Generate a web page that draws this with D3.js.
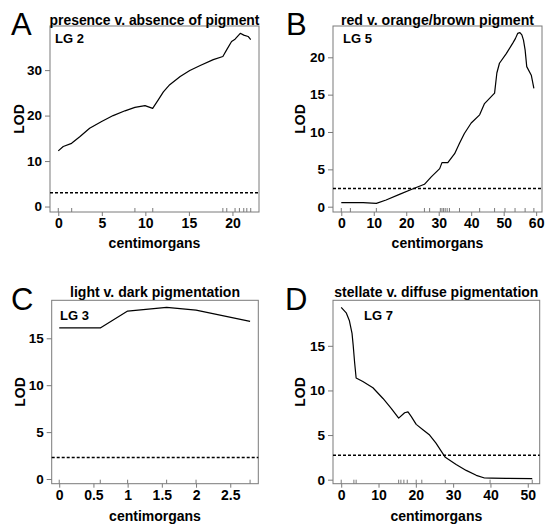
<!DOCTYPE html>
<html>
<head>
<meta charset="utf-8">
<script src="https://cdn.jsdelivr.net/npm/d3@7"></script>
<style>
  html, body { margin: 0; padding: 0; background: #fff; }
  svg { display: block; }
  text { font-family: "Liberation Sans", Arial, Helvetica, sans-serif; fill: #000; }
</style>
</head>
<body>
<svg id="chart" width="546" height="527"></svg>
<script>
// ---------- Data ----------
const panelLetters = ["A", "B", "C", "D"];
const panelTitles = [
  "presence v. absence of pigment",
  "red v. orange/brown pigment",
  "light v. dark pigmentation",
  "stellate v. diffuse pigmentation"
];
const linkageGroups = ["LG 2", "LG 5", "LG 3", "LG 7"];
const xAxisLabel = "centimorgans";
const yAxisLabel = "LOD";

// Panel A (LG 2)
const posA = [0, 0.57, 1.53, 2.5, 3.6, 4.98, 6.3, 7.66, 8.8, 9.96, 10.84, 11.5, 12.07, 12.8, 14.0, 15.1, 16.3, 17.8, 18.9, 19.35, 19.9, 20.3, 20.9, 21.3, 21.8, 22.1];
const lodA = [12.25, 13.2, 13.9, 15.4, 17.2, 18.7, 20.0, 21.05, 21.8, 22.2, 21.6, 23.5, 25.2, 26.8, 28.6, 29.9, 31.0, 32.3, 33.0, 34.5, 36.3, 36.8, 38.1, 37.7, 37.4, 36.7];
const markersA = [0, 1.54, 8.8, 10.85, 18.9, 19.35, 20.3, 20.8, 21.3, 21.65, 22.1];
const thresholdA = 3.05;
const xTicksA = [0, 5, 10, 15, 20];
const yTicksA = [0, 10, 20, 30];

// Panel B (LG 5)
const posB = [0, 6.7, 10.8, 13.8, 17.9, 22.1, 25.6, 27.7, 30.3, 31.0, 32.8, 34.9, 36.4, 37.9, 40.0, 42.6, 44.1, 47.2, 47.9, 48.7, 50.8, 52.8, 53.6, 54.3, 55.0, 55.6, 56.1, 56.6, 57.1, 58.5, 59.3];
const lodB = [0.54, 0.54, 0.45, 0.9, 1.65, 2.4, 3.0, 4.0, 5.1, 5.9, 5.9, 7.1, 8.5, 9.8, 11.2, 12.3, 13.8, 15.2, 17.9, 19.2, 20.5, 21.9, 22.5, 23.2, 23.3, 23.0, 22.3, 21.0, 18.75, 17.6, 15.85];
const markersB = [0, 2.8, 10.8, 25.6, 27.2, 30.5, 31.0, 31.5, 32.0, 32.6, 33.3, 36.4, 42.6, 47.2, 50.4, 53.5, 56.6, 59.3];
const thresholdB = 2.45;
const xTicksB = [0, 10, 20, 30, 40, 50, 60];
const yTicksB = [0, 5, 10, 15, 20];

// Panel C (LG 3)
const posC = [0, 0.6, 1.0, 1.57, 2.0, 2.79];
const lodC = [16.1, 16.1, 17.9, 18.3, 18.0, 16.8];
const markersC = [0, 0.6, 1.0, 1.57, 2.0, 2.79];
const thresholdC = 2.3;
const xTicksC = [0, 0.5, 1, 1.5, 2, 2.5];
const yTicksC = [0, 5, 10, 15];

// Panel D (LG 7)
const posD = [0, 1.34, 2.2, 2.9, 3.2, 3.6, 4.0, 5.8, 8.5, 11.2, 13.4, 15.4, 17.0, 17.9, 18.75, 20.1, 21.9, 23.7, 25.4, 26.8, 27.9, 30.8, 33.5, 36.2, 38.4, 40.4, 44.2, 51.2];
const lodD = [19.3, 18.7, 17.8, 16.4, 15.1, 13.1, 11.4, 11.0, 10.3, 9.1, 8.0, 6.9, 7.5, 7.6, 7.1, 6.2, 5.6, 5.0, 4.1, 3.2, 2.5, 1.7, 1.04, 0.49, 0.19, 0.17, 0.15, 0.11];
const markersD = [0, 3.4, 4.0, 15.4, 16.0, 16.8, 17.7, 20.1, 21.6, 27.9, 39.9, 51.2];
const thresholdD = 2.75;
const xTicksD = [0, 10, 20, 30, 40, 50];
const yTicksD = [0, 5, 10, 15];

// ---------- Layout (pixel geometry, separate from data) ----------
const layouts = [
  { box: [50, 26, 259, 212], xDom: [-0.95, 23.05], yDom: [-1.2, 39.7], letter: [11, 35], titleY: 24.5, titleW: 210, lg: [55, 43], xLabY: 228, cmY: 248, lodX: 24 },
  { box: [333, 26, 542, 212], xDom: [-2.55, 61.8], yDom: [-0.71, 24.19], letter: [286, 35], titleY: 24.5, titleW: 193, lg: [343, 43], xLabY: 228, cmY: 248, lodX: 305 },
  { box: [51.7, 300.3, 258.3, 483.7], xDom: [-0.11, 2.91], yDom: [-0.5, 19.05], letter: [11, 310], titleY: 297, titleW: 170, lg: [60, 320], xLabY: 500, cmY: 521, lodX: 25 },
  { box: [333, 300.3, 539.7, 483.7], xDom: [-2.2, 53.2], yDom: [-0.45, 20.1], letter: [285, 310], titleY: 297, titleW: 204, lg: [364, 320], xLabY: 500, cmY: 521, lodX: 305 }
];

const panelData = [
  { pos: posA, lod: lodA, markers: markersA, thr: thresholdA, xt: xTicksA, yt: yTicksA },
  { pos: posB, lod: lodB, markers: markersB, thr: thresholdB, xt: xTicksB, yt: yTicksB },
  { pos: posC, lod: lodC, markers: markersC, thr: thresholdC, xt: xTicksC, yt: yTicksC },
  { pos: posD, lod: lodD, markers: markersD, thr: thresholdD, xt: xTicksD, yt: yTicksD }
];

const svg = d3.select("#chart");
const boxColor = "#7a7a7a";

panelData.forEach((pd, i) => {
  const L = layouts[i];
  const [x0, y0, x1, y1] = L.box;
  const x = d3.scaleLinear().domain(L.xDom).range([x0, x1]);
  const y = d3.scaleLinear().domain(L.yDom).range([y1, y0]);
  const g = svg.append("g");

  // box
  g.append("rect").attr("x", x0).attr("y", y0).attr("width", x1 - x0).attr("height", y1 - y0)
    .attr("fill", "none").attr("stroke", boxColor).attr("stroke-width", 1);

  // y axis
  const ya = g.append("g").attr("transform", `translate(${x0},0)`)
    .call(d3.axisLeft(y).tickValues(pd.yt).tickSize(5).tickPadding(3).tickFormat(d3.format("d")));
  ya.select(".domain").remove();
  ya.selectAll(".tick line").attr("stroke", boxColor);
  ya.selectAll(".tick text").style("font-size", "13.5px").style("font-weight", "bold")
    .style("font-family", "'Liberation Sans', Arial, sans-serif").attr("fill", "#000");

  // x axis
  const xa = g.append("g").attr("transform", `translate(0,${y1})`)
    .call(d3.axisBottom(x).tickValues(pd.xt).tickSize(4).tickPadding(0).tickFormat(d => String(d)));
  xa.select(".domain").remove();
  xa.selectAll(".tick line").attr("stroke", boxColor);
  xa.selectAll(".tick text").attr("dy", null).attr("y", L.xLabY - y1)
    .style("font-size", "14px").style("font-weight", "bold")
    .style("font-family", "'Liberation Sans', Arial, sans-serif").attr("fill", "#000");

  // rug (marker positions), drawn inside the bottom edge
  g.append("g").selectAll("line").data(pd.markers).join("line")
    .attr("x1", d => x(d)).attr("x2", d => x(d))
    .attr("y1", y1).attr("y2", y1 - 4)
    .attr("stroke", boxColor).attr("stroke-width", 1);

  // threshold
  g.append("line").attr("x1", x0).attr("x2", x1)
    .attr("y1", y(pd.thr)).attr("y2", y(pd.thr))
    .attr("stroke", "#000").attr("stroke-width", 1.5).attr("stroke-dasharray", "3,2");

  // LOD curve
  const pts = pd.pos.map((p, k) => [p, pd.lod[k]]);
  g.append("path").datum(pts)
    .attr("d", d3.line().x(d => x(d[0])).y(d => y(d[1])))
    .attr("fill", "none").attr("stroke", "#000").attr("stroke-width", 1.2).attr("stroke-linejoin", "round");

  // texts
  g.append("text").attr("x", L.letter[0]).attr("y", L.letter[1])
    .style("font-size", "31px").text(panelLetters[i]);
  g.append("text").attr("x", (x0 + x1) / 2).attr("y", L.titleY).attr("text-anchor", "middle")
    .style("font-size", "14px").style("font-weight", "bold")
    .attr("textLength", L.titleW).attr("lengthAdjust", "spacingAndGlyphs")
    .text(panelTitles[i]);
  g.append("text").attr("x", L.lg[0]).attr("y", L.lg[1])
    .style("font-size", "13px").style("font-weight", "bold").text(linkageGroups[i]);
  g.append("text").attr("x", (x0 + x1) / 2).attr("y", L.cmY).attr("text-anchor", "middle")
    .style("font-size", "14px").style("font-weight", "bold").text(xAxisLabel);
  g.append("text").attr("transform", `translate(${L.lodX},${(y0 + y1) / 2}) rotate(-90)`)
    .attr("text-anchor", "middle")
    .style("font-size", "14px").style("font-weight", "bold").text(yAxisLabel);
});
</script>
</body>
</html>
